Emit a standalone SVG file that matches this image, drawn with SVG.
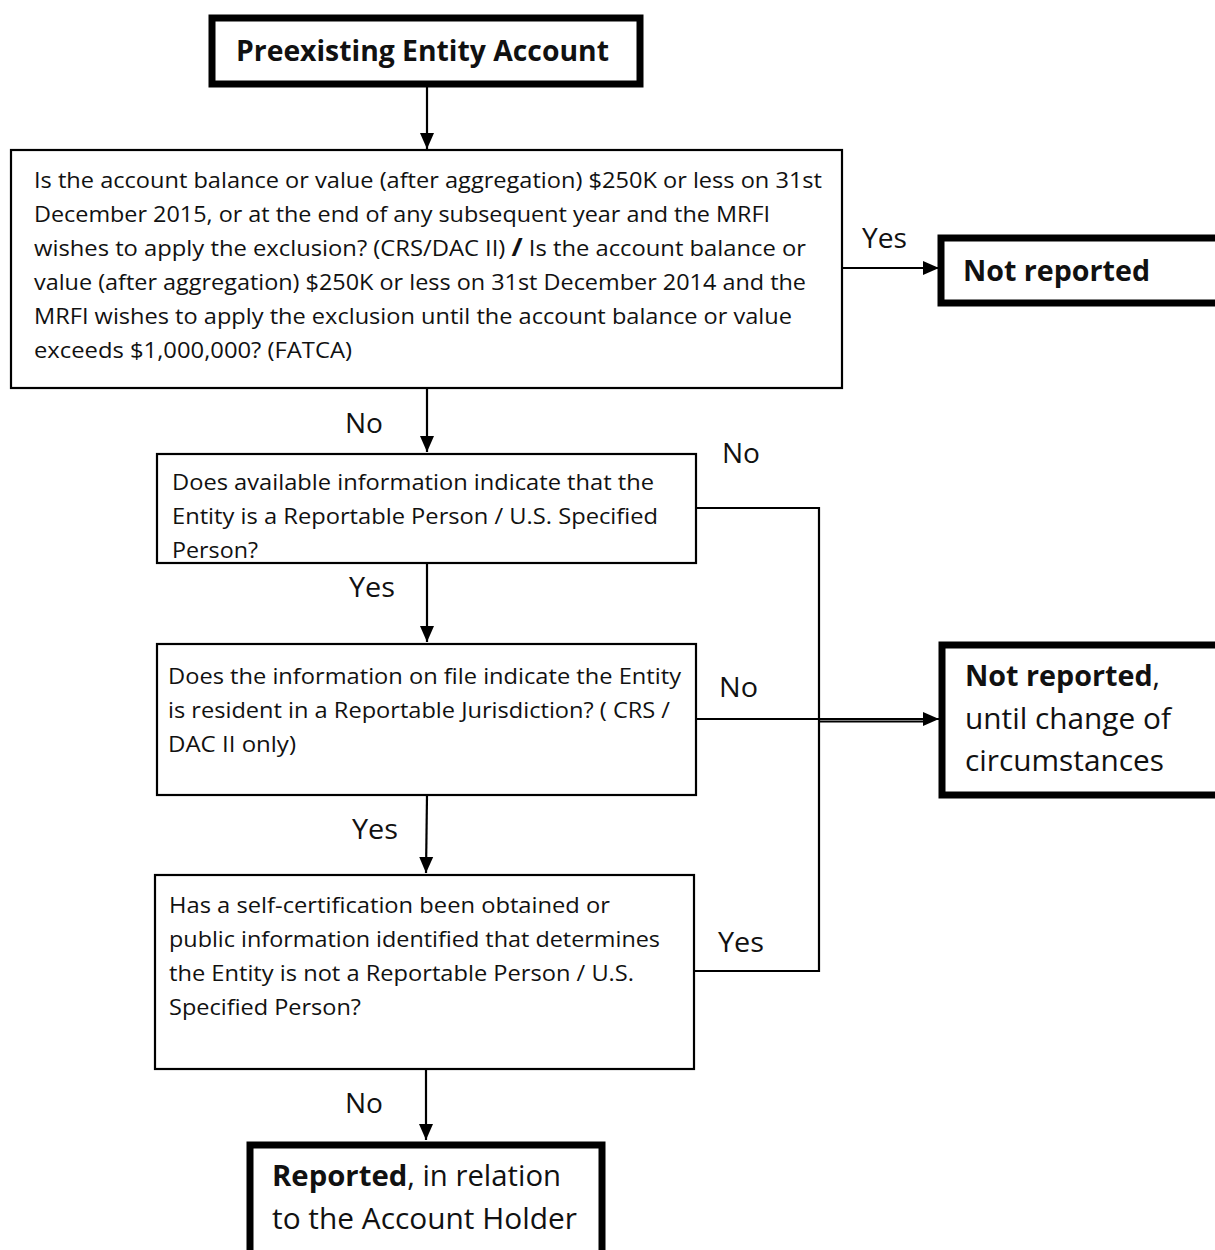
<svg xmlns="http://www.w3.org/2000/svg" width="1215" height="1250" viewBox="0 0 1215 1250">
<defs>
<style>
.t{font-family:"Open Sans","Liberation Sans",sans-serif;fill:#111;}
.q{font-size:22px;}
.lab{font-size:28px;}
.big{font-size:29px;}
.b{font-weight:bold;}
.thin{fill:#fff;stroke:#000;stroke-width:2.2;}
.thick{fill:#fff;stroke:#000;stroke-width:7;}
.c{fill:none;stroke:#000;stroke-width:2.2;}
</style>
<marker id="ah" markerUnits="userSpaceOnUse" markerWidth="16" markerHeight="16" viewBox="0 0 16 16" refX="16" refY="8" orient="auto">
<path d="M0,1 L16,8 L0,15 Z" fill="#000"/>
</marker>
</defs>
<rect width="1215" height="1250" fill="#fff"/>

<g id="connectors">
<line class="c" x1="427" y1="87" x2="427" y2="149" marker-end="url(#ah)"/>
<line class="c" x1="842" y1="268" x2="939" y2="268" marker-end="url(#ah)"/>
<line class="c" x1="427" y1="388" x2="427" y2="452" marker-end="url(#ah)"/>
<line class="c" x1="427" y1="563" x2="427" y2="642" marker-end="url(#ah)"/>
<line class="c" x1="427" y1="795" x2="426" y2="873" marker-end="url(#ah)"/>
<line class="c" x1="426" y1="1069" x2="426" y2="1140" marker-end="url(#ah)"/>
<polyline class="c" points="696,508 819,508 819,971 694,971"/>
<line class="c" x1="696" y1="719" x2="939" y2="719" marker-end="url(#ah)"/>
<line class="c" x1="819" y1="721.5" x2="927" y2="721.5"/>
<text class="t lab" x="862" y="248" textLength="45" lengthAdjust="spacingAndGlyphs">Yes</text>
<text class="t lab" x="345" y="433" textLength="38" lengthAdjust="spacingAndGlyphs">No</text>
<text class="t lab" x="722" y="463" textLength="38" lengthAdjust="spacingAndGlyphs">No</text>
<text class="t lab" x="349" y="597" textLength="46" lengthAdjust="spacingAndGlyphs">Yes</text>
<text class="t lab" x="719" y="697" textLength="39" lengthAdjust="spacingAndGlyphs">No</text>
<text class="t lab" x="352" y="839" textLength="46" lengthAdjust="spacingAndGlyphs">Yes</text>
<text class="t lab" x="718" y="952" textLength="46" lengthAdjust="spacingAndGlyphs">Yes</text>
<text class="t lab" x="345" y="1113" textLength="38" lengthAdjust="spacingAndGlyphs">No</text>
</g>

<g id="start">
<rect class="thick" x="212" y="18" width="428" height="66"/>
<text class="t big b" x="236" y="61" textLength="373" lengthAdjust="spacingAndGlyphs">Preexisting Entity Account</text>
</g>

<g id="q1">
<rect class="thin" x="11" y="150" width="831" height="238"/>
<text class="t q" x="34" y="188" textLength="788" lengthAdjust="spacingAndGlyphs">Is the account balance or value (after aggregation) $250K or less on 31st</text>
<text class="t q" x="34" y="222" textLength="736" lengthAdjust="spacingAndGlyphs">December 2015, or at the end of any subsequent year and the MRFI</text>
<text class="t q" x="34" y="256" textLength="772" lengthAdjust="spacingAndGlyphs">wishes to apply the exclusion? (CRS/DAC II) <tspan class="b" font-size="25">/</tspan> Is the account balance or</text>
<text class="t q" x="34" y="290" textLength="772" lengthAdjust="spacingAndGlyphs">value (after aggregation) $250K or less on 31st December 2014 and the</text>
<text class="t q" x="34" y="324" textLength="758" lengthAdjust="spacingAndGlyphs">MRFI wishes to apply the exclusion until the account balance or value</text>
<text class="t q" x="34" y="358" textLength="318" lengthAdjust="spacingAndGlyphs">exceeds $1,000,000? (FATCA)</text>
</g>

<g id="notreported1">
<rect class="thick" x="941" y="238" width="290" height="65"/>
<text class="t big b" x="963" y="281" textLength="187" lengthAdjust="spacingAndGlyphs">Not reported</text>
</g>

<g id="q2">
<rect class="thin" x="157" y="454" width="539" height="109"/>
<text class="t q" x="172" y="490" textLength="482" lengthAdjust="spacingAndGlyphs">Does available information indicate that the</text>
<text class="t q" x="172" y="524" textLength="486" lengthAdjust="spacingAndGlyphs">Entity is a Reportable Person / U.S. Specified</text>
<text class="t q" x="172" y="558" textLength="86" lengthAdjust="spacingAndGlyphs">Person?</text>
</g>

<g id="q3">
<rect class="thin" x="157" y="644" width="539" height="151"/>
<text class="t q" x="168" y="684" textLength="513" lengthAdjust="spacingAndGlyphs">Does the information on file indicate the Entity</text>
<text class="t q" x="168" y="718" textLength="502" lengthAdjust="spacingAndGlyphs">is resident in a Reportable Jurisdiction? ( CRS /</text>
<text class="t q" x="168" y="752" textLength="128" lengthAdjust="spacingAndGlyphs">DAC II only)</text>
</g>

<g id="notreported2">
<rect class="thick" x="942" y="645" width="290" height="150"/>
<text class="t big" x="965" y="686" textLength="195" lengthAdjust="spacingAndGlyphs"><tspan class="b">Not reported</tspan>,</text>
<text class="t big" x="965" y="729" textLength="206" lengthAdjust="spacingAndGlyphs">until change of</text>
<text class="t big" x="965" y="771" textLength="199" lengthAdjust="spacingAndGlyphs">circumstances</text>
</g>

<g id="q4">
<rect class="thin" x="155" y="875" width="539" height="194"/>
<text class="t q" x="169" y="913" textLength="441" lengthAdjust="spacingAndGlyphs">Has a self-certification been obtained or</text>
<text class="t q" x="169" y="947" textLength="491" lengthAdjust="spacingAndGlyphs">public information identified that determines</text>
<text class="t q" x="169" y="981" textLength="465" lengthAdjust="spacingAndGlyphs">the Entity is not a Reportable Person / U.S.</text>
<text class="t q" x="169" y="1015" textLength="192" lengthAdjust="spacingAndGlyphs">Specified Person?</text>
</g>

<g id="reported">
<rect class="thick" x="250" y="1145" width="352" height="120"/>
<text class="t big" x="272" y="1186" textLength="289" lengthAdjust="spacingAndGlyphs"><tspan class="b">Reported</tspan>, in relation</text>
<text class="t big" x="272" y="1229" textLength="305" lengthAdjust="spacingAndGlyphs">to the Account Holder</text>
</g>
</svg>
